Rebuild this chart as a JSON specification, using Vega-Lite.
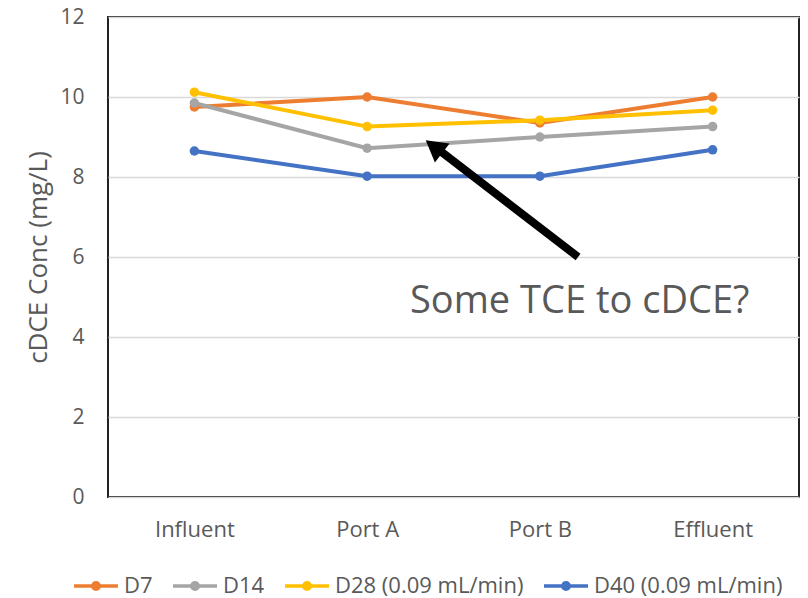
{
  "$schema": "https://vega.github.io/schema/vega-lite/v6.json",
  "autosize": {"type": "none"},
  "padding": {"left": 108, "top": 17, "right": 9, "bottom": 101},
  "width": 691,
  "height": 480,
  "background": "white",
  "config": {
    "font": "Open Sans",
    "view": {"stroke": "#222222", "strokeWidth": 2},
    "axis": {"labelColor": "#595959", "titleColor": "#595959", "labelFont": "Open Sans", "titleFont": "Open Sans"}
  },
  "datasets": {
    "conc": [
      {"site": "Influent", "run": "D7", "conc": 9.75},
      {"site": "Port A", "run": "D7", "conc": 10.0},
      {"site": "Port B", "run": "D7", "conc": 9.35},
      {"site": "Effluent", "run": "D7", "conc": 10.0},
      {"site": "Influent", "run": "D14", "conc": 9.85},
      {"site": "Port A", "run": "D14", "conc": 8.72},
      {"site": "Port B", "run": "D14", "conc": 9.0},
      {"site": "Effluent", "run": "D14", "conc": 9.26},
      {"site": "Influent", "run": "D28 (0.09 mL/min)", "conc": 10.12},
      {"site": "Port A", "run": "D28 (0.09 mL/min)", "conc": 9.26},
      {"site": "Port B", "run": "D28 (0.09 mL/min)", "conc": 9.42},
      {"site": "Effluent", "run": "D28 (0.09 mL/min)", "conc": 9.67},
      {"site": "Influent", "run": "D40 (0.09 mL/min)", "conc": 8.65},
      {"site": "Port A", "run": "D40 (0.09 mL/min)", "conc": 8.02},
      {"site": "Port B", "run": "D40 (0.09 mL/min)", "conc": 8.02},
      {"site": "Effluent", "run": "D40 (0.09 mL/min)", "conc": 8.68}
    ],
    "arrow": [{"x": 2.721, "y": 6.0, "x2": 1.916, "y2": 8.675}],
    "head": [{"x": 1.887, "y": 8.76}],
    "note": [{"x": 1.748, "y": 4.6, "label": "Some TCE to cDCE?"}]
  },
  "layer": [
    {
      "data": {"name": "conc"},
      "mark": {"type": "line", "strokeWidth": 4, "point": {"filled": true, "size": 90}},
      "encoding": {
        "x": {
          "field": "site", "type": "nominal",
          "sort": ["Influent", "Port A", "Port B", "Effluent"],
          "scale": {"type": "point", "padding": 0.5},
          "axis": {"title": null, "labelAngle": 0, "labelFontSize": 22, "labelPadding": 22, "ticks": false, "domain": false, "grid": false}
        },
        "y": {
          "field": "conc", "type": "quantitative",
          "scale": {"domain": [0, 12], "nice": false},
          "axis": {"title": "cDCE Conc (mg/L)", "titleFontSize": 26, "titleFontWeight": "normal", "titlePadding": 8, "values": [0, 2, 4, 6, 8, 10, 12], "labelFontSize": 21, "labelPadding": 24, "ticks": false, "domain": false, "gridColor": "#D9D9D9", "gridWidth": 1.5}
        },
        "color": {
          "field": "run", "type": "nominal",
          "scale": {"domain": ["D7", "D14", "D28 (0.09 mL/min)", "D40 (0.09 mL/min)"], "range": ["#ED7D31", "#A5A5A5", "#FFC000", "#4472C4"]},
          "legend": {
            "title": null, "orient": "none", "direction": "horizontal", "legendX": -36, "legendY": 545,
            "labelFontSize": 22, "labelColor": "#595959", "labelFont": "Open Sans", "labelLimit": 400,
            "symbolType": "M-1,0H1M0.15,0A0.15,0.15,0,1,1,-0.15,0A0.15,0.15,0,1,1,0.15,0",
            "symbolSize": 1936, "symbolStrokeWidth": 3.5, "labelOffset": 4, "columnPadding": 13
          }
        }
      }
    },
    {
      "data": {"name": "arrow"},
      "mark": {"type": "rule", "color": "black", "strokeWidth": 8, "strokeCap": "butt"},
      "encoding": {
        "x": {"field": "x", "type": "quantitative", "scale": {"domain": [0, 4], "nice": false, "zero": false}, "axis": null},
        "x2": {"field": "x2"},
        "y": {"field": "y", "type": "quantitative"},
        "y2": {"field": "y2"}
      }
    },
    {
      "data": {"name": "head"},
      "mark": {"type": "point", "shape": "triangle-up", "filled": true, "color": "black", "size": 576, "angle": 307.6, "opacity": 1},
      "encoding": {
        "x": {"field": "x", "type": "quantitative", "scale": {"domain": [0, 4], "nice": false, "zero": false}, "axis": null},
        "y": {"field": "y", "type": "quantitative"}
      }
    },
    {
      "data": {"name": "note"},
      "mark": {"type": "text", "align": "left", "baseline": "alphabetic", "fontSize": 38, "color": "#595959", "font": "Open Sans"},
      "encoding": {
        "x": {"field": "x", "type": "quantitative", "scale": {"domain": [0, 4], "nice": false, "zero": false}, "axis": null},
        "y": {"field": "y", "type": "quantitative"},
        "text": {"field": "label"}
      }
    }
  ],
  "resolve": {"scale": {"x": "independent"}}
}
